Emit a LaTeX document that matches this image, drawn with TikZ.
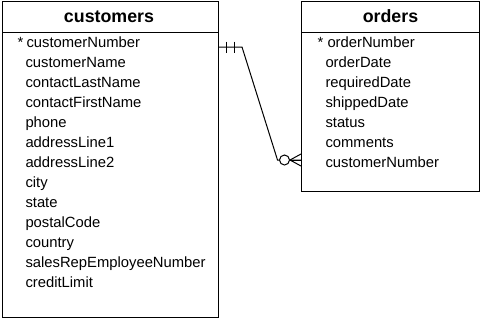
\documentclass[tikz,border=0pt]{standalone}
\usepackage{fontspec}
\setmainfont{Liberation Sans}
\begin{document}
\begin{tikzpicture}[x=1pt,y=-1pt,line width=1pt,
  tablebox/.style={draw,anchor=north west,inner sep=0pt,outer sep=0pt},
  tabletitle/.style={anchor=base,font=\bfseries\fontsize{17.8}{20}\selectfont,inner sep=0pt},
  field/.style={anchor=base west,inner sep=0pt,font=\fontsize{14.8}{17}\selectfont},
  keymark/.style={anchor=base west,inner sep=0pt,font=\fontsize{14.8}{17}\selectfont}]
\useasboundingbox (0,0) rectangle (481,319);
% customers table
\node[tablebox,minimum width=216pt,minimum height=316pt] (cust) at (2,1) {};
\draw ([yshift=-31pt]cust.north west) -- ([yshift=-31pt]cust.north east);
\node[tabletitle] (custtitle) at (109,22) {customers};
\node[keymark] (custstar) at (17,47) {*};
\node[field] (c01) at (26,47) {customerNumber};
\node[field] (c02) at (25,67) {customerName};
\node[field] (c03) at (25,87) {contactLastName};
\node[field] (c04) at (25,107) {contactFirstName};
\node[field] (c05) at (25,127) {phone};
\node[field] (c06) at (25,147) {addressLine1};
\node[field] (c07) at (25,167) {addressLine2};
\node[field] (c08) at (25,187) {city};
\node[field] (c09) at (25,207) {state};
\node[field] (c10) at (25,227) {postalCode};
\node[field] (c11) at (25,247) {country};
\node[field] (c12) at (25,267) {salesRepEmployeeNumber};
\node[field] (c13) at (25,287) {creditLimit};
% orders table
\node[tablebox,minimum width=178pt,minimum height=190pt] (ord) at (301,1) {};
\draw ([yshift=-31pt]ord.north west) -- ([yshift=-31pt]ord.north east);
\node[tabletitle] (ordtitle) at (390.5,22) {orders};
\node[keymark] (ordstar) at (317,47) {*};
\node[field] (o01) at (327,47) {orderNumber};
\node[field] (o02) at (325,67) {orderDate};
\node[field] (o03) at (325,87) {requiredDate};
\node[field] (o04) at (325,107) {shippedDate};
\node[field] (o05) at (325,127) {status};
\node[field] (o06) at (325,147) {comments};
\node[field] (o07) at (325,167) {customerNumber};
% relationship
\coordinate (bend1) at (242,47);
\coordinate (bend2) at (277.5,160);
\coordinate (foot) at (290,160);
\draw (cust.east |- bend1) -- (bend1) -- (bend2) -- (ord.west |- bend2);
\draw (226.5,41.5) -- (226.5,53);
\draw (234,41.5) -- (234,53);
\draw[fill=white] (284.5,160) circle (5);
\draw (foot) -- (ord.west |- 0,154);
\draw (foot) -- (ord.west |- 0,166);
\draw (foot) -- (ord.west |- foot);
\end{tikzpicture}
\end{document}
